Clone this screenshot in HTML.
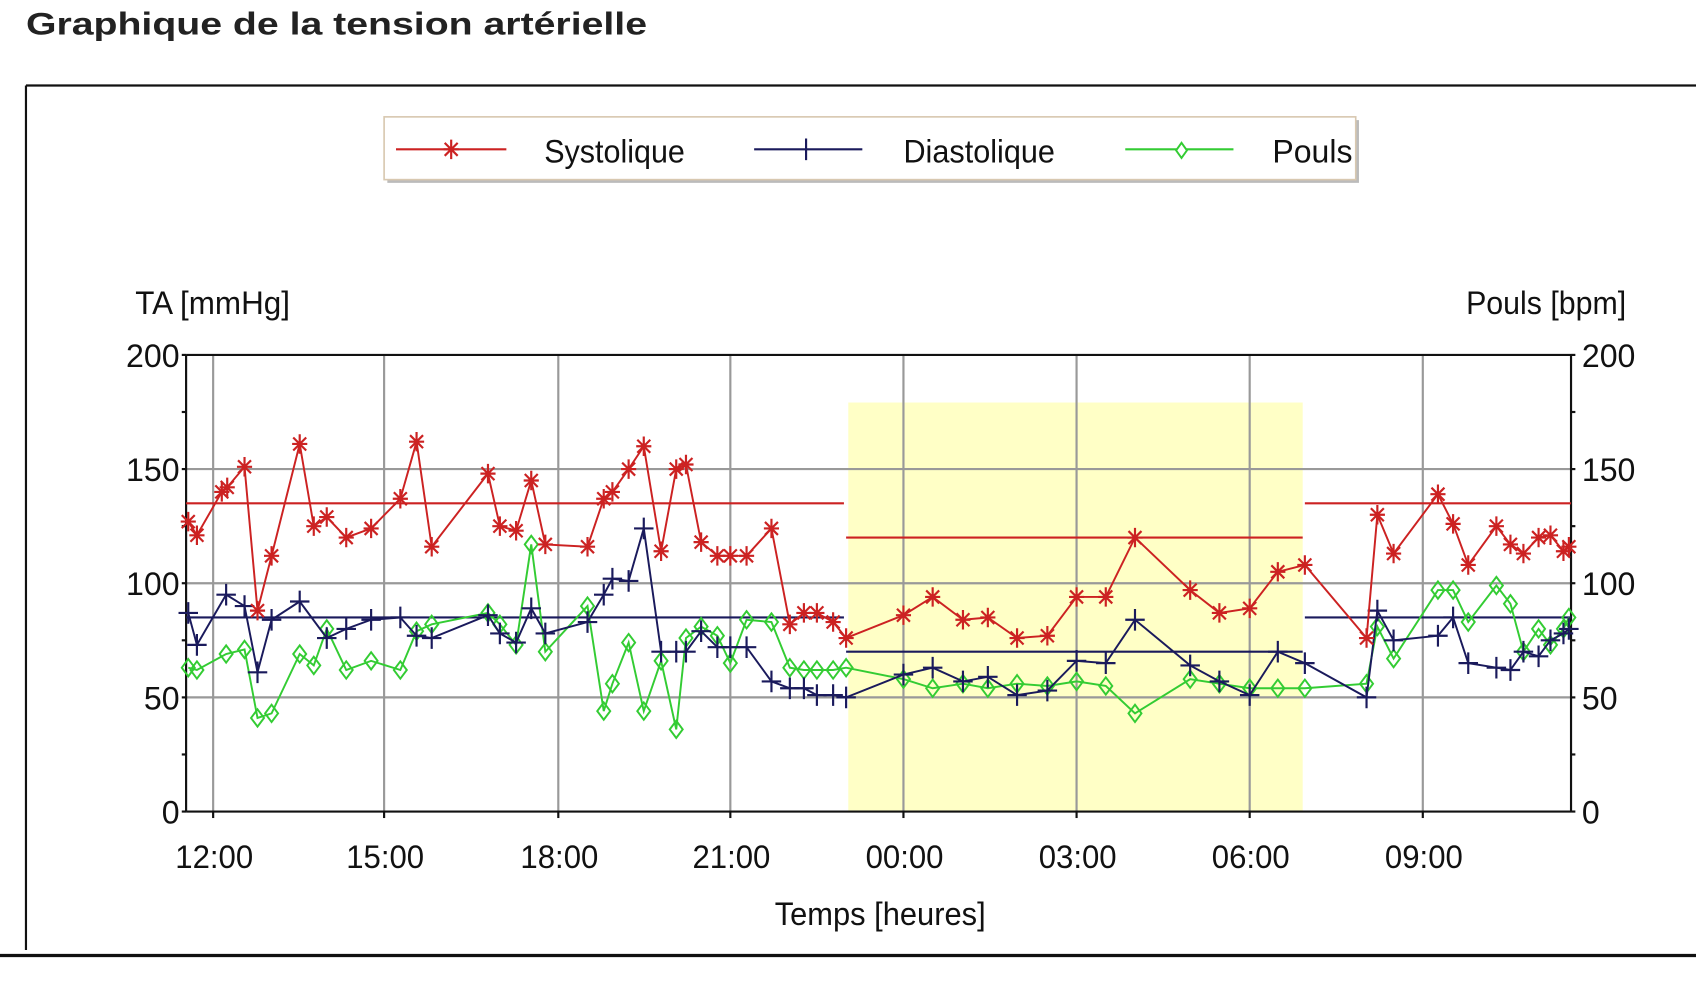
<!DOCTYPE html>
<html><head><meta charset="utf-8"><style>
html,body{margin:0;padding:0;background:#fff;width:1696px;height:981px;overflow:hidden}
svg{display:block}
text{font-family:"Liberation Sans",Arial,sans-serif}
</style></head><body>
<svg id="s" width="1696" height="981" viewBox="0 0 1567.5 906.6" preserveAspectRatio="none" xmlns="http://www.w3.org/2000/svg">
<rect x="0" y="0" width="1567.5" height="906.6" fill="#fff"/>
<text x="24" y="32" font-size="29" font-weight="bold" fill="#222" textLength="574" lengthAdjust="spacingAndGlyphs">Graphique de la tension artérielle</text>
<line x1="24" y1="79" x2="1567.5" y2="79" stroke="#111" stroke-width="2"/>
<line x1="24" y1="79" x2="24" y2="878" stroke="#111" stroke-width="2"/>
<line x1="0" y1="883" x2="1567.5" y2="883" stroke="#111" stroke-width="3"/>
<rect x="358" y="111" width="898" height="58" fill="#bbb"/>
<rect x="355" y="108" width="898" height="58" fill="#fff" stroke="#d8c8b0" stroke-width="1.5"/>
<line x1="366" y1="138" x2="468" y2="138" stroke="#cc2222" stroke-width="2"/>
<line x1="697" y1="138" x2="797" y2="138" stroke="#1a1a5c" stroke-width="2"/>
<line x1="1040" y1="138" x2="1140" y2="138" stroke="#33cc33" stroke-width="2"/>
<g font-size="30" fill="#111" lengthAdjust="spacingAndGlyphs">
<text x="503" y="150" textLength="130" lengthAdjust="spacingAndGlyphs">Systolique</text>
<text x="835" y="150" textLength="140" lengthAdjust="spacingAndGlyphs">Diastolique</text>
<text x="1176" y="150" textLength="74" lengthAdjust="spacingAndGlyphs">Pouls</text>
<text x="125" y="290" textLength="143" lengthAdjust="spacingAndGlyphs">TA [mmHg]</text>
<text x="1355" y="290" textLength="148" lengthAdjust="spacingAndGlyphs">Pouls [bpm]</text>
<text x="716" y="855" textLength="195" lengthAdjust="spacingAndGlyphs">Temps [heures]</text>
</g>
<rect x="784" y="372" width="420" height="378" fill="#ffffc6"/>
<g id="grid"></g>
<g id="data"></g>
</svg>
<script>
const NS="http://www.w3.org/2000/svg",G=document.getElementById('grid'),D=document.getElementById('data');
function el(p,t,a){const e=document.createElementNS(NS,t);for(const k in a)e.setAttribute(k,a[k]);p.appendChild(e);return e;}
const Y=v=>750-v*2.11, L=172, R=1452;
for(const v of [50,100,150]) el(G,'line',{x1:L,x2:R,y1:Y(v),y2:Y(v),stroke:'#999','stroke-width':2});
const xs=[197,355,516,675,835,995,1155,1315],lab=['12:00','15:00','18:00','21:00','00:00','03:00','06:00','09:00'];
xs.forEach((x,i)=>{el(G,'line',{x1:x,x2:x,y1:Y(200),y2:Y(0),stroke:'#999','stroke-width':2});
 el(G,'line',{x1:x,x2:x,y1:750,y2:756,stroke:'#111','stroke-width':2});
 const t=el(G,'text',{x:x-35,y:802,'font-size':30,textLength:72,lengthAdjust:'spacingAndGlyphs',fill:'#111'});t.textContent=lab[i];});
el(G,'line',{x1:L,x2:R,y1:Y(200),y2:Y(200),stroke:'#111','stroke-width':2});
el(G,'line',{x1:L,x2:R,y1:750,y2:750,stroke:'#111','stroke-width':2});
el(G,'line',{x1:L,x2:L,y1:Y(200),y2:750,stroke:'#111','stroke-width':2});
el(G,'line',{x1:R,x2:R,y1:Y(200),y2:750,stroke:'#111','stroke-width':2});
for(let v=0;v<=200;v+=25){el(G,'line',{x1:L-4,x2:L,y1:Y(v),y2:Y(v),stroke:'#111','stroke-width':2});el(G,'line',{x1:R,x2:R+4,y1:Y(v),y2:Y(v),stroke:'#111','stroke-width':2});}
[200,150,100,50,0].forEach(v=>{const s=String(v),w=s.length*16.5;
 let t=el(G,'text',{x:166-w,y:Y(v)+11,'font-size':30,textLength:w,lengthAdjust:'spacingAndGlyphs',fill:'#111'});t.textContent=s;
 t=el(G,'text',{x:1462,y:Y(v)+11,'font-size':30,textLength:w,lengthAdjust:'spacingAndGlyphs',fill:'#111'});t.textContent=s;});
const RC='#cc2222',NC='#1a1a5c',GC='#33cc33';
[[L,780,135,RC],[1206,R,135,RC],[782,1204,120,RC],[L,780,85,NC],[1206,R,85,NC],[782,1204,70,NC]].forEach(a=>el(G,'line',{x1:a[0],x2:a[1],y1:Y(a[2]),y2:Y(a[2]),stroke:a[3],'stroke-width':2}));
const sys=[[174,127],[182,121],[205,140],[210,142],[226,151],[238,88],[251,112],[277,161],[290,125],[302,129],[320,120],[343,124],[370,137],[385,162],[399,116],[451,148],[462,125],[477,123],[491,145],[504,117],[543,116],[558,137],[566,140],[581,150],[595,160],[611,114],[625,150],[634,152],[648,118],[663,112],[675,112],[690,112],[713,124],[730,82],[743,87],[755,87],[770,83],[782,76],[835,86],[862,94],[890,84],[913,85],[940,76],[968,77],[995,94],[1022,94],[1049,120],[1100,97],[1127,87],[1155,89],[1181,105],[1206,108],[1263,76],[1273,130],[1288,113],[1329,139],[1343,126],[1357,108],[1383,125],[1396,117],[1408,113],[1422,120],[1433,121],[1445,114],[1450,116]];
const dia=[[174,87],[182,73],[209,95],[226,90],[238,61],[251,84],[277,92],[302,76],[320,80],[343,84],[370,85],[385,77],[399,76],[451,86],[462,78],[477,74],[491,89],[504,78],[543,83],[558,95],[566,102],[581,101],[595,124],[611,70],[625,70],[634,70],[648,79],[663,72],[675,72],[690,72],[713,57],[730,54],[743,54],[755,51],[770,51],[782,50],[835,60],[862,63],[890,57],[913,59],[940,51],[968,53],[995,66],[1022,65],[1049,84],[1100,64],[1127,57],[1155,51],[1181,70],[1206,65],[1263,50],[1273,88],[1288,75],[1329,77],[1343,85],[1357,65],[1383,63],[1396,62],[1408,70],[1422,68],[1433,75],[1445,78],[1450,80]];
const pul=[[174,63],[182,62],[209,69],[226,71],[238,41],[251,43],[277,69],[290,64],[302,80],[320,62],[343,66],[370,62],[385,79],[399,82],[451,87],[462,82],[477,73],[491,117],[504,70],[543,90],[558,44],[566,56],[581,74],[595,44],[611,66],[625,36],[634,76],[648,81],[663,77],[675,65],[690,84],[713,83],[730,63],[743,62],[755,62],[770,62],[782,63],[835,58],[862,54],[890,56],[913,54],[940,56],[968,55],[995,57],[1022,55],[1049,43],[1100,58],[1127,56],[1155,54],[1181,54],[1206,54],[1263,56],[1273,81],[1288,67],[1329,97],[1343,97],[1357,83],[1383,99],[1396,91],[1408,70],[1422,80],[1433,73],[1445,80],[1450,85]];
function series(d,c,m){el(D,'polyline',{points:d.map(p=>p[0]+','+Y(p[1])).join(' '),fill:'none',stroke:c,'stroke-width':1.8});
 d.forEach(p=>{const x=p[0],y=Y(p[1]);
  if(m=='star'){el(D,'path',{d:`M${x-7} ${y}H${x+7}M${x} ${y-9}V${y+9}M${x-6} ${y-6}L${x+6} ${y+6}M${x-6} ${y+6}L${x+6} ${y-6}`,stroke:c,'stroke-width':2});}
  else if(m=='plus'){el(D,'path',{d:`M${x-9} ${y}H${x+9}M${x} ${y-10}V${y+10}`,stroke:c,'stroke-width':2});}
  else el(D,'path',{d:`M${x} ${y-8}L${x+6} ${y}L${x} ${y+8}L${x-6} ${y}Z`,fill:'none',stroke:c,'stroke-width':1.8});});}
series(pul,GC,'dia');series(dia,NC,'plus');series(sys,RC,'star');
const LG=document.getElementById('s');
el(LG,'path',{d:'M410 138H424M417 129V147M411 132L423 144M411 144L423 132',stroke:RC,'stroke-width':2});
el(LG,'path',{d:'M745 128V148',stroke:NC,'stroke-width':2});
el(LG,'path',{d:'M1092 132L1097 139L1092 146L1087 139Z',fill:'#fff',stroke:GC,'stroke-width':1.8});
</script>
</body></html>
